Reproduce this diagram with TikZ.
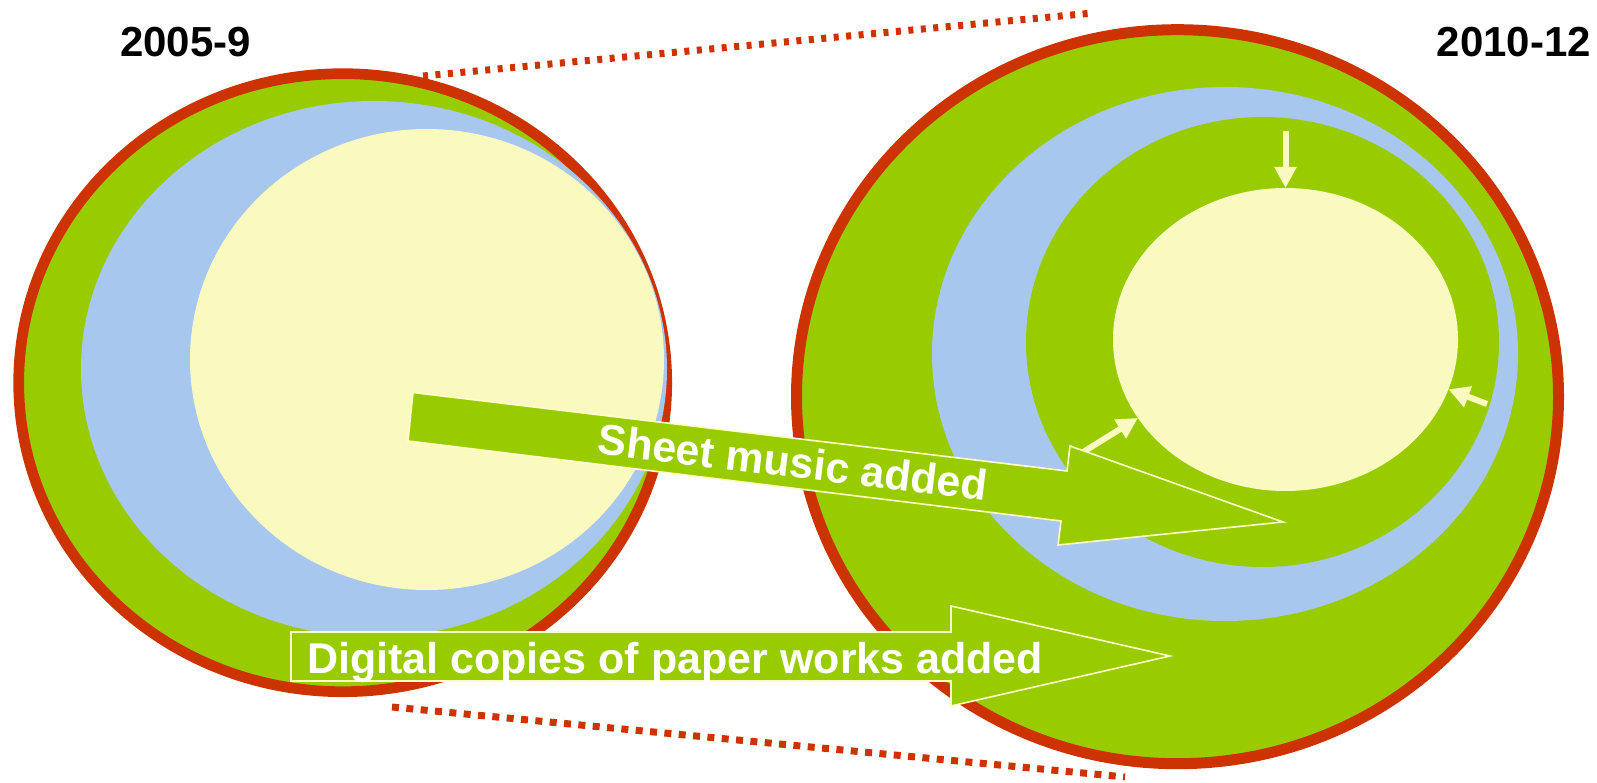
\documentclass[tikz,border=0pt]{standalone}
\usepackage{fontspec}
\setmainfont{Liberation Sans}
\usetikzlibrary{shapes.geometric,arrows.meta}
\definecolor{ringred}{HTML}{CC3300}
\definecolor{leafgreen}{HTML}{99CC00}
\definecolor{skyblue}{HTML}{A7C7EF}
\definecolor{paleyellow}{HTML}{FAFAC0}
\definecolor{edgeyellow}{HTML}{FFFFC8}
\begin{document}
\begin{tikzpicture}[x=1pt,y=-1pt,
  ring/.style={ellipse, inner sep=0pt, outer sep=0pt, draw=ringred, line width=10.7pt, fill=leafgreen},
  blob/.style={ellipse, inner sep=0pt, outer sep=0pt},
  smallarr/.style={draw=paleyellow, line width=6pt, -{Triangle[width=21pt,length=21pt]}},
  dotline/.style={draw=ringred, line width=7pt},
  blockarrow/.style={fill=leafgreen, draw=edgeyellow, line width=1.6pt, line join=miter},
  title/.style={inner sep=0pt, font=\fontsize{42}{48}\selectfont\bfseries, text=black},
  label/.style={inner sep=0pt, font=\fontsize{43}{50}\selectfont\bfseries, text=white}
]
\useasboundingbox (0,0) rectangle (1597,783);

% left picture
\node[ring, minimum width=648pt, minimum height=618pt] (lring) at (342.7,382.7) {};
\node[blob, fill=skyblue, minimum width=586pt, minimum height=536pt] (lblue) at (374,369) {};
\node[blob, fill=paleyellow, minimum width=474pt, minimum height=461pt] (lyel) at (427,359.5) {};

% right picture
\node[ring, line width=11pt, minimum width=762pt, minimum height=734pt] (rring) at (1177.5,396.7) {};
\node[blob, fill=skyblue, minimum width=586pt, minimum height=534pt] (rblue) at (1225,354) {};
\node[blob, fill=leafgreen, minimum width=473pt, minimum height=450pt] (rgreen) at (1262.5,342) {};
\node[blob, fill=paleyellow, minimum width=345pt, minimum height=303pt] (ryel) at (1285.5,339.5) {};

% dotted guide lines
\coordinate (u1) at (423,76);
\coordinate (u2) at (1093,13);
\coordinate (d1) at (392,707);
\coordinate (d2) at (1125,777);
\draw[dotline, dash pattern=on 5pt off 7.5pt] (u1) -- (u2);
\draw[dotline, dash pattern=on 7pt off 7.4pt] (d1) -- (d2);

% titles
\node[title, anchor=base west] (t1) at (120,57) {2005-9};
\node[title, anchor=base east] (t2) at (1591,57) {2010-12};

% small arrows
\coordinate (s1) at (1285.5,131);
\coordinate (s2) at (1487,404);
\coordinate (s3) at (1080,454);
\draw[smallarr] (s1) -- (ryel.north);
\draw[smallarr] (s2) -- (ryel.-17);
\draw[smallarr] (s3) -- (ryel.208.8);

% block arrow: sheet music
\draw[blockarrow] (413,392.5) -- (1067,471) -- (1070,446) -- (1283,522) -- (1058,545) -- (1061,521) -- (408,441) -- cycle;
\node[label, rotate=-6.9] (sheet) at (793,462) {Sheet music added};

% block arrow: digital copies
\draw[blockarrow] (291,632) -- (951,632) -- (951,606) -- (1170,656) -- (951,706) -- (951,681) -- (291,681) -- cycle;
\node[label, anchor=base west] (digital) at (307,673) {Digital copies of paper works added};
\end{tikzpicture}
\end{document}
